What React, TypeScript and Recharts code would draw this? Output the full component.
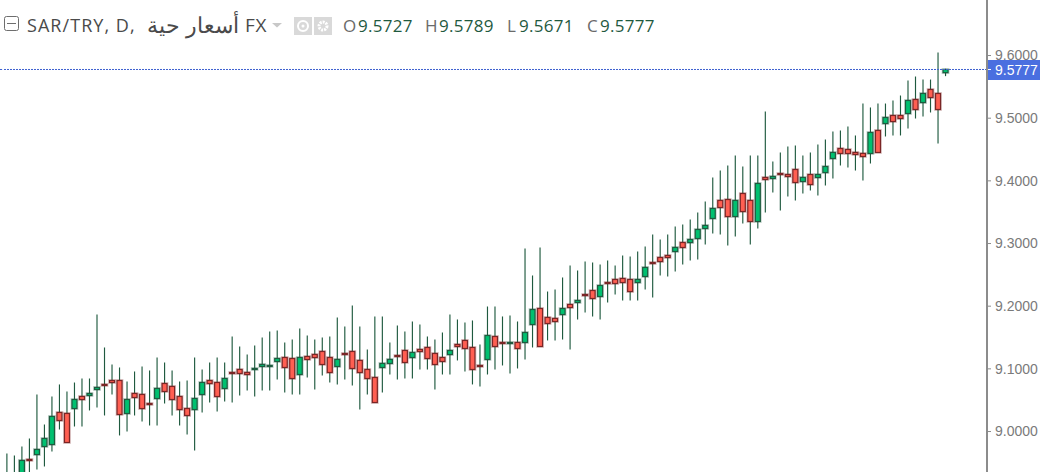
import React from "react";
import { ComposedChart, Bar, XAxis, YAxis, ReferenceLine } from "recharts";

const symbolParts = [
  { text: "SAR/TRY, D,", x: 27, size: 18, spacing: 1.05 },
  { text: "أسعار حية", x: 147, size: 21.5, spacing: 0 },
  { text: "FX", x: 245, size: 19, spacing: 0.6 },
];
const priceTicks = [9.0, 9.1, 9.2, 9.3, 9.4, 9.5, 9.6];
const lastPrice = 9.5777;
const ohlcLabels = [
  { key: "O", value: "9.5727", lx: 343, vx: 358 },
  { key: "H", value: "9.5789", lx: 425, vx: 439 },
  { key: "L", value: "9.5671", lx: 507, vx: 519 },
  { key: "C", value: "9.5777", lx: 587, vx: 600 },
];

const highs = [
  8.9649, 8.9617, 8.9761, 8.9889, 9.0591, 9.0112, 9.0559, 9.0751, 9.0639, 9.0782,
  9.0846, 9.0846, 9.1867, 9.1341, 9.107, 9.1022, 9.0798, 9.0958, 9.1038, 9.0974,
  9.1181, 9.1102, 9.0974, 9.0798, 9.0814, 9.1181, 9.099, 9.1102, 9.1181, 9.1102,
  9.1516, 9.1357, 9.1229, 9.1373, 9.15, 9.1596, 9.1612, 9.1421, 9.1468, 9.1644,
  9.1532, 9.1468, 9.15, 9.1516, 9.182, 9.1676, 9.2011, 9.1676, 9.1309, 9.1836,
  9.1836, 9.1421, 9.1692, 9.1596, 9.1756, 9.1708, 9.1516, 9.1468, 9.158, 9.1867,
  9.1788, 9.174, 9.1772, 9.1389, 9.1995, 9.1995, 9.1836, 9.1851, 9.1756, 9.2921,
  9.249, 9.2937, 9.2234, 9.2266, 9.2458, 9.2649, 9.257, 9.2713, 9.2697, 9.2665,
  9.2729, 9.2649, 9.2809, 9.2793, 9.2873, 9.2953, 9.3144, 9.3064, 9.3144, 9.3272,
  9.3304, 9.3384, 9.3495, 9.3671, 9.4054, 9.4165, 9.4245, 9.4405, 9.4229, 9.4405,
  9.4405, 9.5107, 9.4309, 9.4453, 9.4548, 9.4564, 9.4405, 9.4453, 9.458, 9.466,
  9.4788, 9.4804, 9.4867, 9.4724, 9.5234, 9.5171, 9.5234, 9.5234, 9.5282, 9.5362,
  9.5601, 9.5665, 9.5617, 9.5617, 9.6048, 9.5789,
];
const lows = [
  8.9219, 8.9219, 8.9187, 8.9219, 8.9394, 8.9442, 8.9681, 9.0032, 8.9825, 9.008,
  9.008, 9.0336, 9.0383, 9.0256, 9.0591, 8.9937, 9.0, 9.0256, 9.016, 9.0096,
  9.0096, 9.0447, 9.0256, 9.0096, 8.9953, 8.9697, 9.0304, 9.0463, 9.032, 9.0479,
  9.0463, 9.0575, 9.0655, 9.0559, 9.0655, 9.0655, 9.083, 9.0623, 9.0591, 9.0591,
  9.0862, 9.0671, 9.0894, 9.0782, 9.0751, 9.083, 9.0735, 9.0351, 9.0591, 9.0463,
  9.0623, 9.091, 9.083, 9.0846, 9.0846, 9.099, 9.099, 9.0671, 9.091, 9.091,
  9.1134, 9.0958, 9.0751, 9.0719, 9.091, 9.099, 9.1054, 9.0926, 9.1006, 9.115,
  9.1341, 9.1357, 9.1453, 9.1453, 9.1468, 9.1309, 9.1788, 9.1899, 9.1836, 9.1788,
  9.2059, 9.2186, 9.2091, 9.2091, 9.2091, 9.2266, 9.2139, 9.249, 9.2474, 9.2554,
  9.2665, 9.2729, 9.2745, 9.2985, 9.316, 9.3144, 9.2969, 9.3112, 9.332, 9.2985,
  9.324, 9.3495, 9.3814, 9.3527, 9.375, 9.3687, 9.3798, 9.3846, 9.3766, 9.3926,
  9.4038, 9.4245, 9.4213, 9.4165, 9.4006, 9.4277, 9.4453, 9.4708, 9.4724, 9.4724,
  9.4835, 9.4995, 9.5027, 9.5091, 9.4596, 9.5671,
];
const opens = [
  8.9187, 8.9187, 8.9219, 8.9554, 8.9633, 8.9761, 8.9793, 9.0304, 9.0288, 9.0367,
  9.0559, 9.0575, 9.0671, 9.0751, 9.0814, 9.0814, 9.0288, 9.0607, 9.0591, 9.0447,
  9.0527, 9.0766, 9.0719, 9.0559, 9.0367, 9.0351, 9.0591, 9.0814, 9.0782, 9.0687,
  9.0942, 9.099, 9.0942, 9.099, 9.1038, 9.1038, 9.1118, 9.1181, 9.1165, 9.091,
  9.1197, 9.1229, 9.1277, 9.1181, 9.1038, 9.1245, 9.1277, 9.1134, 9.099, 9.0862,
  9.1022, 9.1086, 9.1213, 9.1293, 9.1181, 9.1309, 9.1341, 9.1245, 9.1181, 9.1229,
  9.1389, 9.1453, 9.1341, 9.1054, 9.115, 9.1516, 9.1421, 9.1405, 9.1421, 9.1421,
  9.1708, 9.1963, 9.182, 9.1804, 9.1867, 9.2027, 9.2059, 9.2186, 9.225, 9.2155,
  9.2378, 9.2426, 9.2442, 9.2426, 9.2378, 9.2474, 9.2697, 9.2777, 9.2809, 9.2873,
  9.3016, 9.3016, 9.308, 9.324, 9.34, 9.3687, 9.3702, 9.3431, 9.3798, 9.3687,
  9.3352, 9.4054, 9.4038, 9.4117, 9.4101, 9.4181, 9.399, 9.4101, 9.4054, 9.4133,
  9.4357, 9.4516, 9.45, 9.4453, 9.4437, 9.4437, 9.4804, 9.4915, 9.5043, 9.5043,
  9.5075, 9.5298, 9.525, 9.5458, 9.5394, 9.5727,
];
const closes = [
  8.9282, 8.9282, 8.9538, 8.9538, 8.9713, 8.9889, 9.024, 9.0176, 8.9825, 9.0511,
  9.0511, 9.0607, 9.0703, 9.0735, 9.0782, 9.0272, 9.0511, 9.0543, 9.0367, 9.0431,
  9.0687, 9.0639, 9.0511, 9.0351, 9.0256, 9.0527, 9.0782, 9.0766, 9.0559, 9.0846,
  9.0926, 9.0926, 9.091, 9.1006, 9.107, 9.1054, 9.1165, 9.1022, 9.0846, 9.1181,
  9.115, 9.1181, 9.107, 9.0942, 9.115, 9.1229, 9.1006, 9.0942, 9.0846, 9.0463,
  9.1086, 9.115, 9.1197, 9.1102, 9.1261, 9.1277, 9.1165, 9.107, 9.1118, 9.1293,
  9.1357, 9.1325, 9.099, 9.1038, 9.1532, 9.1357, 9.1405, 9.1421, 9.1325, 9.158,
  9.1947, 9.1357, 9.1724, 9.1756, 9.1963, 9.1979, 9.2091, 9.217, 9.2123, 9.233,
  9.2362, 9.2362, 9.2378, 9.2234, 9.2426, 9.2618, 9.2681, 9.2713, 9.2777, 9.2937,
  9.2937, 9.3064, 9.3224, 9.3288, 9.3559, 9.3575, 9.3431, 9.3687, 9.3511, 9.3352,
  9.3958, 9.4022, 9.407, 9.4101, 9.407, 9.3974, 9.4054, 9.3942, 9.4101, 9.4229,
  9.4453, 9.4437, 9.4437, 9.4421, 9.4389, 9.4772, 9.4453, 9.5011, 9.4947, 9.4995,
  9.5282, 9.5139, 9.5394, 9.533, 9.5139, 9.5777,
];

const candles = highs.map((high, i) => ({
  day: i,
  high,
  low: lows[i],
  open: opens[i],
  close: closes[i],
}));

const WICK = "#1f5a3f";

const Candle = (props: any) => {
  const { x, y, width, height, payload } = props;
  const { high, low, open, close } = payload;
  const top = Math.min(y, y + height);
  const h = Math.abs(height);
  const perUnit = h / (high - low);
  const at = (v: number) => top + (high - v) * perUnit;
  const cx = x + width / 2;
  const up = close >= open;
  const bodyTop = at(Math.max(open, close));
  const bodyBot = at(Math.min(open, close));
  const edge = up ? "#1f5a3f" : "#7a2626";
  const bodyH = Math.max(bodyBot - bodyTop, 0.6);
  return (
    <g>
      <line x1={cx} x2={cx} y1={top} y2={top + h} stroke={WICK} strokeWidth={1.15} />
      <rect
        x={cx - 2.5}
        y={bodyTop}
        width={5}
        height={bodyH}
        fill="none"
        stroke={edge}
        strokeOpacity={0.28}
        strokeWidth={2.8}
      />
      <rect
        x={cx - 2.5}
        y={bodyTop}
        width={5}
        height={bodyH}
        fill={up ? "#00c070" : "#ff5f52"}
        stroke={edge}
        strokeWidth={1.2}
      />
    </g>
  );
};

const PriceTag = (props: any) => {
  const { viewBox } = props;
  const right = viewBox.x + viewBox.width;
  const y = viewBox.y;
  return (
    <g>
      <line x1={0} x2={viewBox.x} y1={y} y2={y} stroke="#3f62d0" strokeDasharray="2 1" />
      <rect x={right - 1} y={y - 9.5} width={54} height={20} fill="#4a6fe0" />
      <line x1={right} x2={right + 4} y1={y} y2={y} stroke="#ffffff" strokeWidth={1} />
      <text
        x={right + 8}
        y={y + 5.5}
        fill="#ffffff"
        fontFamily="Liberation Sans"
        fontSize={14}
      >
        {lastPrice.toFixed(4)}
      </text>
    </g>
  );
};

const uiFont = '"Open Sans", sans-serif';

const Header = () => (
  <>
    <svg
      width={340}
      height={50}
      style={{ position: "absolute", left: 0, top: 0 }}
    >
      <rect x={4.5} y={16.5} width={14} height={14} rx={2} fill="none" stroke="#6e6e6e" />
      <line x1={7} x2={16} y1={23.5} y2={23.5} stroke="#6e6e6e" />
      <path d="M272 23 L282 23 L277 27.5 Z" fill="#c8c8c8" />
      <rect x={294} y={17} width={18} height={18} fill="#d9d9d9" />
      <rect x={314} y={17} width={18} height={18} fill="#d9d9d9" />
      <circle cx={303} cy={26} r={5} fill="none" stroke="#ffffff" strokeWidth={2} />
      <circle cx={303} cy={26} r={1.5} fill="#ffffff" />
      <circle cx={323} cy={26} r={4} fill="none" stroke="#ffffff" strokeWidth={3} strokeDasharray="2 1" />
    </svg>
    {symbolParts.map((p) => (
      <div
        key={p.text}
        style={{
          position: "absolute",
          left: p.x,
          top: 12,
          fontFamily: uiFont,
          fontSize: p.size,
          lineHeight: "26px",
          letterSpacing: p.spacing,
          color: "#4a4a4a",
          whiteSpace: "nowrap",
        }}
      >
        {p.text}
      </div>
    ))}
    {ohlcLabels.map((o) => (
      <React.Fragment key={o.key}>
        <div
          style={{
            position: "absolute",
            left: o.lx,
            top: 13,
            fontFamily: uiFont,
            fontSize: 17,
            lineHeight: "26px",
            color: "#6a6a6a",
          }}
        >
          {o.key}
        </div>
        <div
          style={{
            position: "absolute",
            left: o.vx,
            top: 13,
            fontFamily: uiFont,
            fontSize: 17,
            lineHeight: "26px",
            color: "#1f5a3f",
            letterSpacing: 0.3,
          }}
        >
          {o.value}
        </div>
      </React.Fragment>
    ))}
  </>
);

export default function App() {
  return (
    <div
      style={{
        position: "absolute",
        left: 0,
        top: 0,
        width: 1040,
        height: 472,
        overflow: "hidden",
        background: "#ffffff",
      }}
    >
      <ComposedChart
        width={1040}
        height={472}
        data={candles}
        margin={{ top: 0, right: 0, bottom: 0, left: 2.89 }}
        barCategoryGap={0}
      >
        <XAxis dataKey="day" hide padding={{ left: 0, right: 37.95 }} />
        <YAxis
          orientation="right"
          width={53}
          domain={[8.9354, 9.6886]}
          allowDataOverflow
          ticks={priceTicks}
          interval={0}
          tickFormatter={(v: number) => v.toFixed(4)}
          tick={{ fill: "#7a7a7a", fontSize: 14, fontFamily: "Liberation Sans" }}
          tickSize={4}
          tickMargin={4}
          axisLine={{ stroke: "#8c8c8c", strokeWidth: 2 }}
          tickLine={{ stroke: "#8c8c8c" }}
        />
        <Bar
          dataKey={(d: any) => [d.low, d.high]}
          shape={<Candle />}
          isAnimationActive={false}
        />
        <ReferenceLine
          y={lastPrice}
          stroke="#3f62d0"
          strokeDasharray="2 1"
          label={<PriceTag />}
        />
      </ComposedChart>
      <Header />
    </div>
  );
}
